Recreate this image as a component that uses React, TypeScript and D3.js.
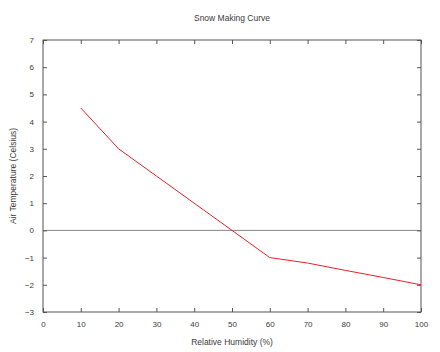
import { useRef, useEffect } from 'react';
import * as d3 from 'd3';

const humidity = [10, 20, 30, 40, 50, 60, 70, 80, 90, 100];
const temperature = [4.5, 3, 2, 1, 0, -1, -1.2, -1.47, -1.73, -2];
const xTicks = [0, 10, 20, 30, 40, 50, 60, 70, 80, 90, 100];
const yTicks = [-3, -2, -1, 0, 1, 2, 3, 4, 5, 6, 7];

const width = 440;
const height = 352;
const margin = { top: 40, right: 19, bottom: 40, left: 43 };

export default function App() {
  const ref = useRef<SVGSVGElement>(null);

  useEffect(() => {
    const svg = d3.select(ref.current);
    svg.selectAll('*').remove();
    const innerWidth = width - margin.left - margin.right;
    const innerHeight = height - margin.top - margin.bottom;
    const x = d3.scaleLinear().domain([0, 100]).range([0, innerWidth]);
    const y = d3.scaleLinear().domain([-3, 7]).range([innerHeight, 0]);
    const font = 'Liberation Sans, Arial, sans-serif';
    const axisColor = '#555';
    const textColor = '#3a3a3a';

    const g = svg.append('g').attr('transform', `translate(${margin.left},${margin.top})`);

    // zero line
    g.append('line')
      .attr('x1', 0).attr('x2', innerWidth)
      .attr('y1', y(0)).attr('y2', y(0))
      .attr('stroke', '#888').attr('stroke-width', 1);

    const styleAxis = (sel: d3.Selection<SVGGElement, unknown, null, undefined>) => {
      sel.select('.domain').remove();
      sel.selectAll('line').attr('stroke', axisColor);
      sel.selectAll('text')
        .attr('fill', textColor)
        .style('font-family', font)
        .style('font-size', '8px');
    };

    // inward ticks on all four sides
    g.append('g')
      .attr('transform', `translate(0,${innerHeight})`)
      .call(d3.axisBottom(x).tickValues(xTicks).tickSizeInner(-4).tickSizeOuter(0).tickPadding(9))
      .call(styleAxis);
    g.append('g')
      .call(d3.axisTop(x).tickValues(xTicks).tickSizeInner(-4).tickSizeOuter(0).tickFormat(() => ''))
      .call(styleAxis);
    g.append('g')
      .call(d3.axisLeft(y).tickValues(yTicks).tickSizeInner(-4).tickSizeOuter(0).tickPadding(9))
      .call(styleAxis);
    g.append('g')
      .attr('transform', `translate(${innerWidth},0)`)
      .call(d3.axisRight(y).tickValues(yTicks).tickSizeInner(-4).tickSizeOuter(0).tickFormat(() => ''))
      .call(styleAxis);

    // frame
    g.append('rect')
      .attr('width', innerWidth).attr('height', innerHeight)
      .attr('fill', 'none').attr('stroke', axisColor).attr('stroke-width', 1);

    const line = d3.line<number>()
      .x((_, i) => x(humidity[i]))
      .y((d) => y(d));
    g.append('path')
      .datum(temperature)
      .attr('d', line)
      .attr('fill', 'none')
      .attr('stroke', '#e8212b')
      .attr('stroke-width', 1);

    svg.append('text')
      .attr('x', margin.left + innerWidth / 2).attr('y', 21)
      .attr('text-anchor', 'middle')
      .attr('fill', textColor)
      .style('font-family', font).style('font-size', '8.5px')
      .text('Snow Making Curve');

    svg.append('text')
      .attr('x', margin.left + innerWidth / 2).attr('y', 345)
      .attr('text-anchor', 'middle')
      .attr('fill', textColor)
      .style('font-family', font).style('font-size', '8.5px')
      .text('Relative Humidity (%)');

    svg.append('text')
      .attr('transform', `translate(16,${margin.top + innerHeight / 2}) rotate(-90)`)
      .attr('text-anchor', 'middle')
      .attr('fill', textColor)
      .style('font-family', font).style('font-size', '8.5px')
      .text('Air Temperature (Celsius)');
  }, []);

  return (
    <svg
      ref={ref}
      width={width}
      height={height}
      style={{ position: 'absolute', left: 0, top: 0, background: '#fff' }}
    />
  );
}
